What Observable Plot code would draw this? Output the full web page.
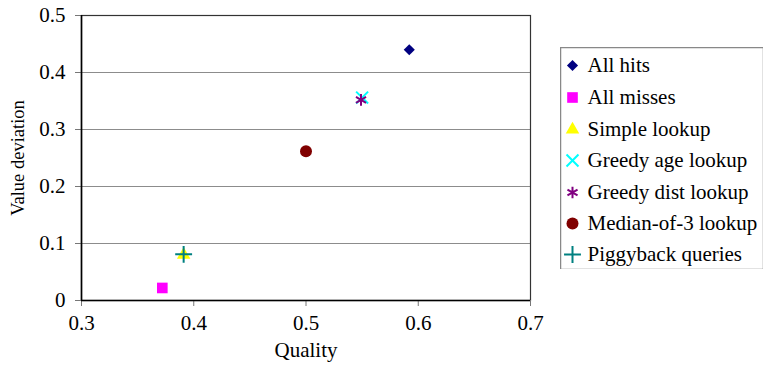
<!DOCTYPE html>
<html>
<head>
<meta charset="utf-8">
<script src="https://cdn.jsdelivr.net/npm/d3@7"></script>
<script src="https://cdn.jsdelivr.net/npm/@observablehq/plot@0.6"></script>
<style>
  html, body { margin: 0; padding: 0; background: #fff; }
  #wrap { position: relative; width: 766px; height: 366px; }
  #chart { position: absolute; left: 0; top: 0; }
  #legend { position: absolute; left: 560px; top: 47px; }
</style>
</head>
<body>
<div id="wrap"><div id="chart"></div><div id="legend"></div></div>
<script>
// Lookup strategies: quality vs. value deviation
const series = ["All hits", "All misses", "Simple lookup", "Greedy age lookup",
                "Greedy dist lookup", "Median-of-3 lookup", "Piggyback queries"];
const quality = [0.592, 0.372, 0.391, 0.550, 0.549, 0.500, 0.391];
const deviation = [0.440, 0.022, 0.080, 0.356, 0.352, 0.262, 0.081];
const colors = ["#000080", "#ff00ff", "#ffff00", "#00ffff", "#800080", "#800000", "#008080"];
const symbols = ["diamond2", "square", "triangle", "times", "asterisk", "circle", "plus"];
const filled = [true, true, true, false, false, true, false];
const sizes = [5, 6, 5, 5.5, 5.5, 6, 5.5];

const xTicks = [0.3, 0.4, 0.5, 0.6, 0.7];
const xTickLabels = ["0.3", "0.4", "0.5", "0.6", "0.7"];
const yTicks = [0, 0.1, 0.2, 0.3, 0.4, 0.5];
const yTickLabels = ["0", "0.1", "0.2", "0.3", "0.4", "0.5"];

const font = "'Liberation Serif', 'DejaVu Serif', serif";

function symbolMark(i, x, y) {
  return Plot.dot([i], {
    x, y,
    symbol: () => symbols[i],
    r: sizes[i],
    fill: filled[i] ? colors[i] : "none",
    stroke: filled[i] ? "none" : colors[i],
    strokeWidth: filled[i] ? 0 : 2
  });
}

const pointMarks = series.map((_, i) =>
  symbolMark(i, d => quality[d], d => deviation[d]));

const chart = Plot.plot({
  width: 545,
  height: 366,
  marginLeft: 81,
  marginRight: 15,
  marginTop: 15,
  marginBottom: 66,
  style: { fontFamily: font, fontSize: "21px", color: "#000", background: "#fff" },
  symbol: { type: "identity" },
  x: { domain: [0.3, 0.7], ticks: xTicks, tickFormat: (d, k) => xTickLabels[k], label: null },
  y: { domain: [0, 0.5], ticks: yTicks, tickFormat: (d, k) => yTickLabels[k], label: null },
  marks: [
    Plot.gridY(yTicks.slice(1), { stroke: "#8c8c8c", strokeOpacity: 1, strokeWidth: 1.2 }),
    Plot.frame({ stroke: "#333", strokeWidth: 1.2 }),
    Plot.axisX(xTicks, { tickSize: 6, tickPadding: 9, fontSize: 21, stroke: "#777",
      tickFormat: (d, k) => xTickLabels[k], label: null }),
    Plot.axisY(yTicks, { tickSize: 6, tickPadding: 10, fontSize: 21, stroke: "#777",
      tickFormat: (d, k) => yTickLabels[k], label: null }),
    Plot.ruleX([0.3], { stroke: "#000", strokeWidth: 1.6 }),
    Plot.ruleY([0], { stroke: "#000", strokeWidth: 1.6 }),
    ...pointMarks,
    Plot.text(["Quality"], { frameAnchor: "bottom", lineAnchor: "middle", textAnchor: "middle",
      dy: 50, fontSize: 21, fill: "#000" }),
    Plot.text(["Value deviation"], { frameAnchor: "left", lineAnchor: "middle", textAnchor: "middle",
      dx: -63, rotate: -90, fontSize: 18.5, fill: "#000" })
  ]
});
document.getElementById("chart").appendChild(chart);

// Legend box with one symbol and label per series
const legendY = [18, 50, 82, 113, 145, 176, 207];
const legend = Plot.plot({
  width: 203,
  height: 222,
  margin: 0,
  style: { fontFamily: font, fontSize: "21px", color: "#000", background: "#fff" },
  x: { domain: [0, 203], range: [0, 203], axis: null },
  y: { domain: [0, 222], range: [0, 222], axis: null },
  marks: [
    Plot.frame({ stroke: "#888", strokeWidth: 1.5 }),
    ...series.map((_, i) => symbolMark(i, () => 12, d => legendY[d])),
    Plot.text(series, { x: 27, y: (d, i) => legendY[i], text: d => d,
      textAnchor: "start", fontSize: 21, fill: "#000" })
  ]
});
document.getElementById("legend").appendChild(legend);
</script>
</body>
</html>
